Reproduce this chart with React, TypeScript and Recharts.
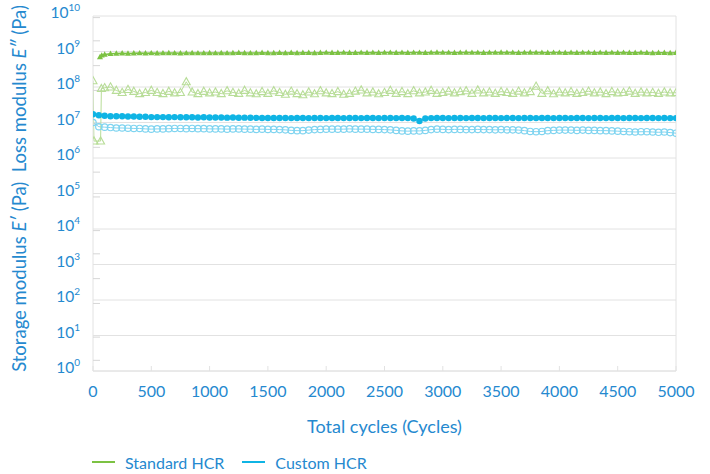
import { LineChart, Line, XAxis, YAxis, CartesianGrid, ReferenceLine, Legend } from 'recharts';

// shared x positions (cycles) after the first few start-up points
const cycles = [
  100, 150, 200, 250, 300, 350, 400, 450, 500, 550,
  600, 650, 700, 750, 800, 850, 900, 950, 1000, 1050,
  1100, 1150, 1200, 1250, 1300, 1350, 1400, 1450, 1500, 1550,
  1600, 1650, 1700, 1750, 1800, 1850, 1900, 1950, 2000, 2050,
  2100, 2150, 2200, 2250, 2300, 2350, 2400, 2450, 2500, 2550,
  2600, 2650, 2700, 2750, 2800, 2850, 2900, 2950, 3000, 3050,
  3100, 3150, 3200, 3250, 3300, 3350, 3400, 3450, 3500, 3550,
  3600, 3650, 3700, 3750, 3800, 3850, 3900, 3950, 4000, 4050,
  4100, 4150, 4200, 4250, 4300, 4350, 4400, 4450, 4500, 4550,
  4600, 4650, 4700, 4750, 4800, 4850, 4900, 4950, 5000,
];

const xTicks = [0, 500, 1000, 1500, 2000, 2500, 3000, 3500, 4000, 4500, 5000];
const yTicks = [1, 1e1, 1e2, 1e3, 1e4, 1e5, 1e6, 1e7, 1e8, 1e9, 1e10];
const minorSteps = [2, 3, 4, 5, 6, 7, 8, 9];

// Standard HCR – storage modulus E'
const stdStorageStart: [number, number][] = [[60, 7.0e8], [75, 7.8e8]];
const stdStorage = [
  8.2e8, 8.7e8, 8.8e8, 8.9e8, 8.8e8, 8.9e8, 9.0e8, 8.9e8, 9.0e8, 8.9e8,
  9.0e8, 9.1e8, 9.0e8, 8.9e8, 9.0e8, 9.1e8, 9.0e8, 9.0e8, 9.1e8, 9.0e8,
  9.1e8, 9.0e8, 9.1e8, 9.2e8, 9.1e8, 9.0e8, 9.1e8, 9.2e8, 9.1e8, 9.1e8,
  9.2e8, 9.1e8, 9.2e8, 9.1e8, 9.2e8, 9.2e8, 9.1e8, 9.2e8, 9.3e8, 9.2e8,
  9.2e8, 9.3e8, 9.2e8, 9.2e8, 9.3e8, 9.2e8, 9.3e8, 9.2e8, 9.3e8, 9.3e8,
  9.2e8, 9.3e8, 9.2e8, 9.3e8, 9.3e8, 9.2e8, 9.3e8, 9.4e8, 9.3e8, 9.3e8,
  9.2e8, 9.3e8, 9.4e8, 9.3e8, 9.3e8, 9.2e8, 9.3e8, 9.3e8, 9.4e8, 9.3e8,
  9.3e8, 9.2e8, 9.3e8, 9.4e8, 9.3e8, 9.3e8, 9.2e8, 9.3e8, 9.3e8, 9.2e8,
  9.3e8, 9.2e8, 9.3e8, 9.3e8, 9.2e8, 9.3e8, 9.2e8, 9.3e8, 9.2e8, 9.3e8,
  9.2e8, 9.2e8, 9.3e8, 9.2e8, 9.1e8, 9.2e8, 9.2e8, 9.1e8, 9.2e8,
];

// Standard HCR – loss modulus E''
const stdLossStart: [number, number][] = [[0, 1.5e8], [8, 3.0e6], [65, 3.0e6], [72, 9.0e7]];
const stdLoss = [
  9.5e7, 1.0e8, 8.0e7, 7.0e7, 8.5e7, 7.5e7, 6.5e7, 7.0e7, 8.0e7, 7.0e7,
  6.5e7, 7.5e7, 6.8e7, 7.0e7, 1.4e8, 7.2e7, 6.5e7, 7.5e7, 6.8e7, 7.2e7,
  6.5e7, 7.8e7, 7.0e7, 6.6e7, 8.0e7, 6.8e7, 6.4e7, 7.4e7, 6.6e7, 7.8e7,
  7.0e7, 6.2e7, 7.6e7, 6.5e7, 6.0e7, 7.2e7, 6.4e7, 7.8e7, 6.8e7, 6.5e7,
  7.4e7, 6.2e7, 6.6e7, 7.6e7, 8.2e7, 6.8e7, 7.2e7, 6.4e7, 7.0e7, 8.0e7,
  6.6e7, 7.4e7, 6.5e7, 7.8e7, 6.8e7, 7.2e7, 8.0e7, 6.6e7, 7.0e7, 7.6e7,
  6.8e7, 7.4e7, 7.8e7, 6.6e7, 8.2e7, 6.8e7, 7.2e7, 6.6e7, 7.4e7, 7.0e7,
  6.6e7, 7.6e7, 6.8e7, 7.4e7, 1.05e8, 6.6e7, 7.8e7, 6.4e7, 7.2e7, 6.8e7,
  7.4e7, 6.6e7, 7.0e7, 7.6e7, 6.8e7, 7.2e7, 6.5e7, 7.4e7, 6.8e7, 7.0e7,
  7.6e7, 6.6e7, 7.2e7, 6.8e7, 7.0e7, 6.6e7, 7.2e7, 6.8e7, 6.9e7,
];

// Custom HCR – storage modulus E'
const customStorageStart: [number, number][] = [[0, 1.7e7], [50, 1.6e7]];
const customStorage = [
  1.55e7, 1.5e7, 1.5e7, 1.5e7, 1.48e7, 1.48e7, 1.45e7, 1.45e7, 1.42e7, 1.42e7,
  1.42e7, 1.4e7, 1.42e7, 1.4e7, 1.4e7, 1.4e7, 1.38e7, 1.4e7, 1.38e7, 1.38e7,
  1.38e7, 1.37e7, 1.38e7, 1.36e7, 1.37e7, 1.36e7, 1.35e7, 1.34e7, 1.34e7, 1.34e7,
  1.34e7, 1.34e7, 1.33e7, 1.34e7, 1.34e7, 1.33e7, 1.34e7, 1.34e7, 1.33e7, 1.34e7,
  1.34e7, 1.33e7, 1.34e7, 1.34e7, 1.33e7, 1.34e7, 1.34e7, 1.33e7, 1.34e7, 1.34e7,
  1.33e7, 1.34e7, 1.33e7, 1.3e7, 1.1e7, 1.3e7, 1.33e7, 1.34e7, 1.34e7, 1.33e7,
  1.34e7, 1.34e7, 1.33e7, 1.34e7, 1.34e7, 1.33e7, 1.34e7, 1.34e7, 1.33e7, 1.34e7,
  1.34e7, 1.33e7, 1.34e7, 1.34e7, 1.33e7, 1.34e7, 1.34e7, 1.33e7, 1.34e7, 1.34e7,
  1.33e7, 1.34e7, 1.34e7, 1.33e7, 1.34e7, 1.34e7, 1.33e7, 1.34e7, 1.34e7, 1.33e7,
  1.34e7, 1.34e7, 1.33e7, 1.34e7, 1.34e7, 1.33e7, 1.34e7, 1.33e7, 1.33e7,
];

// Custom HCR – loss modulus E''
const customLossStart: [number, number][] = [[0, 1.0e7], [50, 7.6e6]];
const customLoss = [
  7.4e6, 7.2e6, 7.0e6, 7.0e6, 6.9e6, 6.8e6, 6.8e6, 6.6e6, 6.5e6, 6.6e6,
  6.6e6, 6.7e6, 6.8e6, 6.8e6, 6.7e6, 6.8e6, 6.7e6, 6.7e6, 6.6e6, 6.6e6,
  6.6e6, 6.5e6, 6.6e6, 6.6e6, 6.5e6, 6.5e6, 6.4e6, 6.5e6, 6.4e6, 6.4e6,
  6.3e6, 6.2e6, 6.0e6, 5.9e6, 5.9e6, 6.1e6, 6.3e6, 6.4e6, 6.5e6, 6.5e6,
  6.5e6, 6.5e6, 6.6e6, 6.5e6, 6.5e6, 6.5e6, 6.4e6, 6.4e6, 6.3e6, 6.2e6,
  6.0e6, 5.8e6, 5.7e6, 5.8e6, 5.8e6, 6.0e6, 6.3e6, 6.5e6, 6.4e6, 6.3e6,
  6.4e6, 6.4e6, 6.3e6, 6.3e6, 6.4e6, 6.3e6, 6.3e6, 6.2e6, 6.3e6, 6.2e6,
  6.2e6, 6.1e6, 5.9e6, 5.6e6, 5.5e6, 5.6e6, 5.9e6, 6.0e6, 6.1e6, 6.1e6,
  6.1e6, 6.0e6, 6.1e6, 6.0e6, 6.0e6, 5.9e6, 5.9e6, 5.8e6, 5.7e6, 5.6e6,
  5.5e6, 5.4e6, 5.5e6, 5.5e6, 5.4e6, 5.3e6, 5.4e6, 5.2e6, 5.0e6,
];

const GREEN = '#7cc243';
const GREEN_LIGHT = '#b8dd98';
const BLUE = '#0fb4e4';
const BLUE_LIGHT = '#7fd4f0';
const TEXT = '#2589cf';
const GRID = '#e2e2e2';
const MINOR = '#d6d6d6';
const FONT = 'Lato, "Open Sans", sans-serif';

const toPoints = (start: [number, number][], values: number[]) => [
  ...start.map(([cycle, value]) => ({ cycle, value })),
  ...cycles.map((cycle, i) => ({ cycle, value: values[i] })),
];

const stdStorageData = toPoints(stdStorageStart, stdStorage);
const stdLossData = toPoints(stdLossStart, stdLoss);
const customStorageData = toPoints(customStorageStart, customStorage);
const customLossData = toPoints(customLossStart, customLoss);

const minorTicks = yTicks.slice(0, -1).flatMap((d) => minorSteps.map((m) => d * m));

const triPath = (cx: number, cy: number, s: number) =>
  `M${cx},${cy - s}L${cx + s * 0.95},${cy + s * 0.7}L${cx - s * 0.95},${cy + s * 0.7}Z`;

const FilledTriangle = (p: any) => (
  <path key={`ft-${p.index}`} d={triPath(p.cx, p.cy, 3.2)} fill={GREEN} stroke="none" />
);
const OpenTriangle = (p: any) => (
  <path key={`ot-${p.index}`} d={triPath(p.cx, p.cy, 4.2)} fill="none" stroke={GREEN_LIGHT} strokeWidth={1.1} />
);
const FilledCircle = (p: any) => (
  <circle key={`fc-${p.index}`} cx={p.cx} cy={p.cy} r={3.2} fill={BLUE} stroke="none" />
);
const OpenCircle = (p: any) => (
  <circle key={`oc-${p.index}`} cx={p.cx} cy={p.cy} r={3.2} fill="none" stroke={BLUE_LIGHT} strokeWidth={1.2} />
);

const YTick = ({ x, y, payload }: any) => {
  const exp = Math.round(Math.log10(payload.value));
  return (
    <text x={x} y={y + 2} textAnchor="end" fill={TEXT} fontSize={15.5} fontFamily={FONT}>
      <tspan>10</tspan>
      <tspan dy={-7} fontSize={10}>{exp}</tspan>
    </text>
  );
};

const XTick = ({ x, y, payload }: any) => (
  <text x={x} y={y + 31} textAnchor="middle" fill={TEXT} fontSize={16} fontFamily={FONT}>
    {payload.value}
  </text>
);

const YLabel = ({ viewBox }: any) => {
  const cx = viewBox.x - 4;
  const cy = viewBox.y + viewBox.height / 2 - 5;
  return (
    <text
      x={cx}
      y={cy}
      transform={`rotate(-90, ${cx}, ${cy})`}
      textAnchor="middle"
      dominantBaseline="central"
      fill={TEXT}
      fontSize={18.5}
      fontFamily={FONT}
      style={{ whiteSpace: 'pre' }}
    >
      <tspan>Storage modulus </tspan>
      <tspan fontStyle="italic">E′</tspan>
      <tspan> (Pa)  Loss modulus </tspan>
      <tspan fontStyle="italic">E″</tspan>
      <tspan> (Pa)</tspan>
    </text>
  );
};

const XLabel = ({ viewBox }: any) => (
  <text
    x={viewBox.x + viewBox.width / 2}
    y={viewBox.y + 62}
    textAnchor="middle"
    fill={TEXT}
    fontSize={18}
    fontFamily={FONT}
  >
    Total cycles (Cycles)
  </text>
);

const legendItems = [
  { name: 'Standard HCR', color: GREEN },
  { name: 'Custom HCR', color: BLUE },
];

const LegendContent = () => (
  <div style={{ display: 'flex', alignItems: 'center', height: 24, paddingLeft: 92, fontFamily: FONT, fontSize: 16, color: TEXT }}>
    {legendItems.map((item) => (
      <div key={item.name} style={{ display: 'flex', alignItems: 'center', marginRight: 18 }}>
        <span style={{ display: 'inline-block', width: 23, height: 2, background: item.color, marginRight: 10 }} />
        <span>{item.name}</span>
      </div>
    ))}
  </div>
);

export default function App() {
  return (
    <div style={{ position: 'absolute', left: 0, top: 0, width: 710, height: 474, background: '#fff', fontFamily: FONT }}>
      <LineChart width={710} height={474} margin={{ top: 16, right: 34, bottom: 0, left: 23 }}>
        <CartesianGrid horizontal vertical={false} stroke={GRID} />
        <XAxis
          type="number"
          dataKey="cycle"
          domain={[0, 5000]}
          ticks={xTicks}
          height={79}
          tickSize={-5}
          tickMargin={0}
          stroke={GRID}
          tickLine={{ stroke: GRID }}
          axisLine={{ stroke: GRID }}
          tick={<XTick />}
          label={<XLabel />}
          allowDataOverflow
        />
        <YAxis
          scale="log"
          domain={[1, 1e10]}
          ticks={yTicks}
          width={70}
          tickSize={0}
          tickMargin={13}
          tickLine={false}
          axisLine={{ stroke: GRID }}
          tick={<YTick />}
          label={<YLabel />}
          allowDataOverflow
        />
        <YAxis
          yAxisId="minor"
          scale="log"
          domain={[1, 1e10]}
          ticks={minorTicks}
          mirror
          width={70}
          tickSize={7}
          axisLine={false}
          stroke={MINOR}
          tickLine={{ stroke: MINOR }}
          tick={() => <g />}
          allowDataOverflow
        />
        <ReferenceLine x={5000} stroke={GRID} />
        <Legend verticalAlign="bottom" height={24} wrapperStyle={{ left: 0, width: 710 }} content={<LegendContent />} />
        <Line data={customLossData} dataKey="value" stroke={BLUE_LIGHT} strokeWidth={1} dot={OpenCircle} activeDot={false} isAnimationActive={false} />
        <Line data={stdLossData} dataKey="value" stroke={GREEN_LIGHT} strokeWidth={1} dot={OpenTriangle} activeDot={false} isAnimationActive={false} />
        <Line data={customStorageData} dataKey="value" stroke={BLUE} strokeWidth={1.5} dot={FilledCircle} activeDot={false} isAnimationActive={false} />
        <Line data={stdStorageData} dataKey="value" stroke={GREEN} strokeWidth={1.5} dot={FilledTriangle} activeDot={false} isAnimationActive={false} />
      </LineChart>
    </div>
  );
}
